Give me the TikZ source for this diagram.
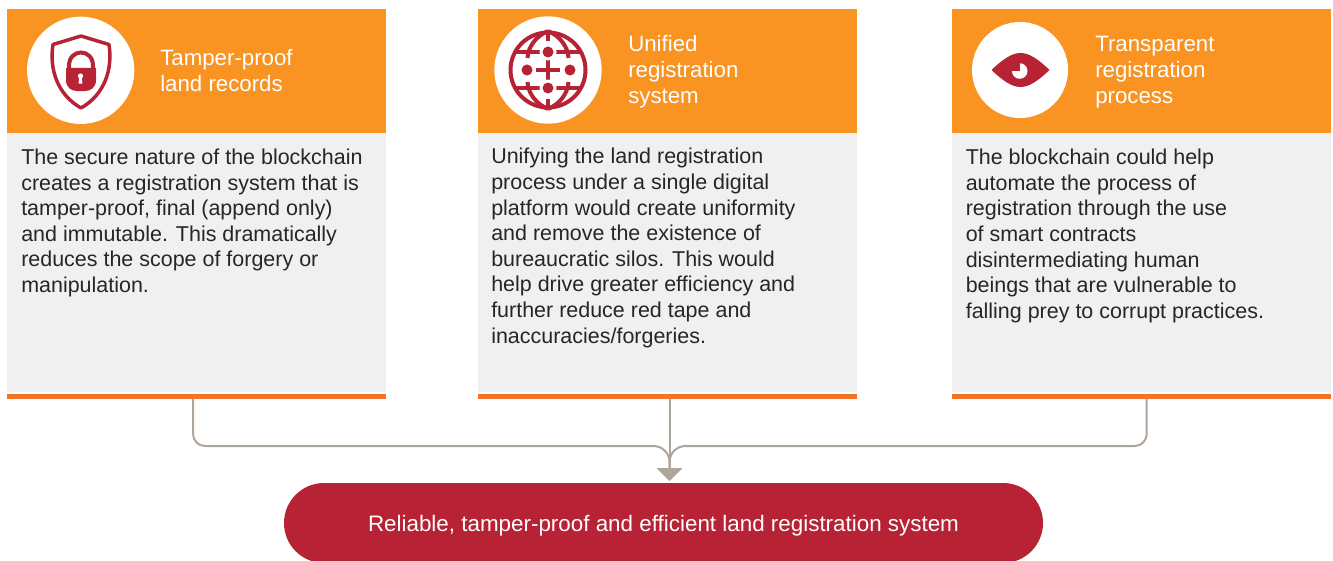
\documentclass[tikz,border=0pt]{standalone}
\usepackage{fontspec}
\setmainfont{Liberation Sans}
\usetikzlibrary{arrows.meta}
\definecolor{hdr}{HTML}{F99321}
\definecolor{bodybg}{HTML}{F0F0F0}
\definecolor{barc}{HTML}{F47324}
\definecolor{redc}{HTML}{B72234}
\definecolor{linec}{HTML}{B0A59B}
\tikzset{
 x=0.75pt,y=-0.75pt,
 hdrbox/.style={fill=hdr,draw=none,minimum width=284.25pt,minimum height=93pt,inner sep=0,outer sep=0},
 bodybox/.style={fill=bodybg,draw=none,minimum width=284.25pt,minimum height=194.25pt,inner sep=0,outer sep=0},
 barbox/.style={fill=barc,draw=none,minimum width=284.25pt,minimum height=3.75pt,inner sep=0,outer sep=0},
 disc/.style={circle,fill=white,draw=none,inner sep=0,outer sep=0},
 headtext/.style={anchor=west,align=left,text=white,inner sep=0,font=\fontsize{16.7pt}{19.5pt}\selectfont},
 bodytext/.style={anchor=west,align=left,text=black!85,inner sep=0,font=\fontsize{16.1pt}{19.2pt}\selectfont},
 conn/.style={draw=linec,line width=1.5pt,-{Triangle[length=9.75pt,width=18.75pt]}},
 icon/.style={draw=redc,line width=2.6pt},
 iconfill/.style={fill=redc,draw=none},
}
\begin{document}
\begin{tikzpicture}
\useasboundingbox (0,0) rectangle (1333,560);
% cards
\node[hdrbox] (h1) at (196.5,71) {};
\node[hdrbox] (h2) at (667.5,71) {};
\node[hdrbox] (h3) at (1141.5,71) {};
\node[bodybox] (b1) at (196.5,262.5) {};
\node[bodybox] (b2) at (667.5,262.5) {};
\node[bodybox] (b3) at (1141.5,262.5) {};
\node[barbox] (r1) at (196.5,396.5) {};
\node[barbox] (r2) at (667.5,396.5) {};
\node[barbox] (r3) at (1141.5,396.5) {};
% discs
\node[disc,minimum size=80.5pt] (d1) at (80.7,70.3) {};
\node[disc,minimum size=80.5pt] (d2) at (548,70) {};
\node[disc,minimum size=72pt] (d3) at (1020,70) {};
% shield icon
\draw[icon,line join=round] (81,36) -- (109,44.5) .. controls (113,70) and (104,95) .. (81,108) .. controls (58,95) and (49,70) .. (53,44.5) -- cycle;
\draw[redc,line width=3pt] (69,70) -- (69,66) .. controls (69,48) and (93,48) .. (93,66) -- (93,70);
\fill[redc] (66,68) -- (96,68) -- (96,80) .. controls (96,88) and (90,91) .. (85,91) -- (77,91) .. controls (72,91) and (66,88) .. (66,80) -- cycle;
\fill[white] (80.5,76) circle[radius=2.6];
\fill[white] (79.2,76) -- (81.8,76) -- (82.4,83.5) -- (78.6,83.5) -- cycle;
% globe icon
\draw[icon,line width=3pt] (548,70) circle[radius=37.5];
\foreach \d in {-1,1}{
 \draw[icon,line width=3pt] (548,31) .. controls ({548+\d*12},36) and ({548+\d*20},47) .. ({548+\d*20.5},58);
 \draw[icon,line width=3pt] (548,109) .. controls ({548+\d*12},104) and ({548+\d*20},93) .. ({548+\d*20.5},82);
 \draw[icon,line width=3pt] ({548+\d*8},52) -- ({548+\d*33},52);
 \draw[icon,line width=3pt] ({548+\d*8},88) -- ({548+\d*33},88);
}
\draw[icon,line width=3pt] (548,32) -- (548,41.5) (548,98.5) -- (548,108) (536,70) -- (560,70) (548,58) -- (548,82);
\foreach \p in {(548,52),(527,70),(570,70),(548,88)}{
 \fill[white] \p circle[radius=8.5];
 \fill[redc] \p circle[radius=5.5];
}
% eye icon
\fill[redc] (991.5,70) .. controls (1003,59) and (1012,53) .. (1020.5,53) .. controls (1029,53) and (1038,59) .. (1049.5,70) .. controls (1038,81) and (1029,87) .. (1020.5,87) .. controls (1012,87) and (1003,81) .. (991.5,70) -- cycle;
\fill[white] (1019.7,71) circle[radius=7.8];
\fill[redc] (1019.7,71) -- (1011.5,71) -- (1011.5,62.8) -- (1019.7,62.8) -- cycle;
% headings
\node[headtext] (t1) at (160,70.5) {Tamper-proof\\land records};
\node[headtext] (t2) at (628,72) {Unified\\registration\\system};
\node[headtext] (t3) at (1095,72) {Transparent\\registration\\process};
% body text
\node[bodytext] (x1) at (21,223) {The secure nature of the blockchain\\creates a registration system that is\\tamper-proof, final (append only)\\and immutable. This dramatically\\reduces the scope of forgery or\\manipulation.};
\node[bodytext] (x2) at (491,248) {Unifying the land registration\\process under a single digital\\platform would create uniformity\\and remove the existence of\\bureaucratic silos. This would\\help drive greater efficiency and\\further reduce red tape and\\inaccuracies/forgeries.};
\node[bodytext] (x3) at (965.5,236) {The blockchain could help\\automate the process of\\registration through the use\\of smart contracts\\disintermediating human\\beings that are vulnerable to\\falling prey to corrupt practices.};
% pill
\node[fill=redc,draw=none,rounded corners=30pt,minimum width=569.25pt,minimum height=60pt,inner sep=0,outer sep=0,text=white,font=\fontsize{16.8pt}{18pt}\selectfont] (pill) at (663.5,523) {\raisebox{-6pt}[0pt][0pt]{Reliable, tamper-proof and efficient land registration system}};
% connectors
\coordinate (tip) at ([xshift=4.5pt,yshift=1.5pt]pill.north);
\draw[conn,rounded corners=9pt] ([xshift=-2.6pt]r1.south) -- ([xshift=-2.6pt,yshift=-35.25pt]r1.south) [rounded corners=12pt] -- ([yshift=26.25pt]tip) -- (tip);
\draw[conn,rounded corners=9pt] ([xshift=3.9pt]r3.south) -- ([xshift=3.9pt,yshift=-35.25pt]r3.south) [rounded corners=12pt] -- ([yshift=26.25pt]tip) -- (tip);
\draw[conn] ([xshift=1.5pt]r2.south) -- (tip);
\end{tikzpicture}
\end{document}
